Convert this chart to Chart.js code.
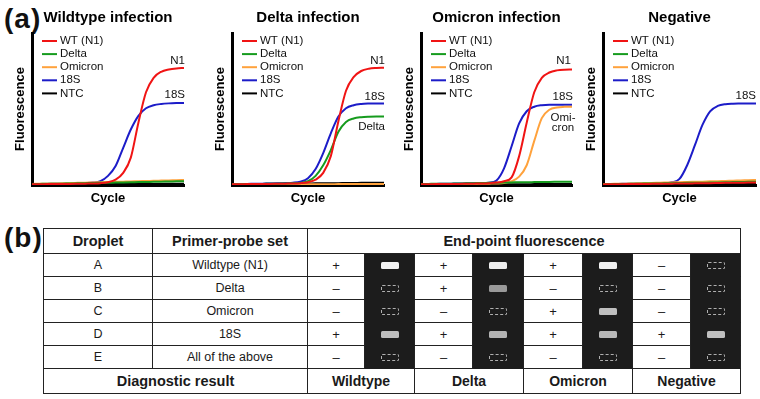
<!DOCTYPE html>
<html>
<head>
<meta charset="utf-8">
<script src="https://cdn.jsdelivr.net/npm/chart.js@4.4.0/dist/chart.umd.min.js"></script>
<style>
body { margin:0; background:#fff; font-family:"Liberation Sans", Arial, sans-serif; }
#fig { position:relative; width:760px; height:399px; overflow:hidden; }
.panel { position:absolute; top:0; }
.tag { position:absolute; font-weight:bold; font-size:28px; line-height:28px; letter-spacing:1px; color:#111; }
#tbl { position:absolute; left:43px; top:228px; width:697px; border-collapse:collapse; table-layout:fixed; color:#1a1a1a; }
#tbl td { border:1px solid #222; text-align:center; vertical-align:middle; padding:0; font-size:12.5px; }
#tbl td.hd { font-weight:bold; font-size:14.5px; }
#tbl td.sign { font-size:13px; }
#tbl td.dark { background:#1c1c1c; border-top-color:#1c1c1c; border-bottom-color:#1c1c1c; }
.drop { display:inline-block; width:18px; height:7px; border-radius:1.5px; vertical-align:middle; box-sizing:border-box; }
.drop.empty { border:1px dashed #b0b0b0; }
</style>
</head>
<body>
<div id="fig">
  <div class="tag" style="left:4px;top:5px">(a)</div>
  <div class="panel" style="left:0px"><canvas id="c1" width="200" height="210"></canvas></div>
  <div class="panel" style="left:200px"><canvas id="c2" width="200" height="210"></canvas></div>
  <div class="panel" style="left:389px"><canvas id="c3" width="200" height="210"></canvas></div>
  <div class="panel" style="left:571px"><canvas id="c4" width="189" height="210"></canvas></div>
  <div class="tag" style="left:4px;top:224px">(b)</div>
  <table id="tbl"></table>
</div>
<script>
// cycle axis samples
const cycles = [0,2,4,6,8,10,12,14,16,18,20,22,24,26,28,30,32,34,36,38,40];

// Wildtype infection
const wtN1    = [0.5,0.5,0.6,0.6,0.7,0.7,0.8,0.9,1.0,1.2,1.8,3.5,8,18,41,61,70.5,74.5,76,76.7,77];
const wtDelta = [0.6,0.7,0.8,0.8,0.9,1.0,1.1,1.2,1.3,1.4,1.5,1.6,1.7,1.8,1.9,2.0,2.1,2.2,2.3,2.4,2.5];
const wtOmi   = [0.7,0.8,0.9,1.0,1.1,1.3,1.4,1.5,1.7,1.8,1.9,2.1,2.2,2.3,2.5,2.6,2.8,2.9,3.0,3.2,3.3];
const wt18S   = [0.5,0.6,0.7,0.8,0.9,1.0,1.1,1.3,1.6,2.5,6,12.5,24.5,36.5,45.5,50.5,52.5,53.3,53.7,53.9,54];
const wtNTC   = [0.4,0.4,0.4,0.4,0.5,0.5,0.5,0.5,0.5,0.6,0.6,0.6,0.6,0.6,0.7,0.7,0.7,0.7,0.8,0.8,0.8];

// Delta infection
const dlN1    = [0.5,0.5,0.6,0.6,0.7,0.7,0.8,0.9,1.0,1.2,1.8,3.5,8,19,42,62,71,75,76.5,77,77.2];
const dlDelta = [0.5,0.5,0.6,0.6,0.7,0.8,0.9,1.0,1.1,1.4,2.5,6,13,23,35,41.5,43.8,44.6,44.9,45,45];
const dlOmi   = [0.3,0.3,0.3,0.3,0.3,0.4,0.4,0.4,0.4,0.4,0.5,0.5,0.5,0.5,0.6,0.6,0.6,0.6,0.7,0.7,0.7];
const dl18S   = [0.5,0.6,0.7,0.8,0.9,1.0,1.1,1.3,1.5,2.2,4.5,10.5,21,34,45,50.5,52.5,53.3,53.6,53.7,53.7];
const dlNTC   = [0.5,0.6,0.6,0.7,0.7,0.8,0.8,0.9,0.9,1.0,1.0,1.1,1.1,1.2,1.2,1.3,1.3,1.4,1.4,1.5,1.5];

// Omicron infection
const omN1    = [0.5,0.5,0.6,0.6,0.7,0.7,0.8,0.9,1.0,1.2,1.6,2.5,5,19,41,61,70.5,74,75.4,75.9,76];
const omDelta = [0.6,0.7,0.8,0.8,0.9,1.0,1.1,1.2,1.3,1.4,1.5,1.6,1.7,1.8,1.8,1.9,2.0,2.0,2.1,2.2,2.2];
const omOmi   = [0.4,0.4,0.5,0.5,0.6,0.6,0.7,0.7,0.8,0.9,1.0,1.3,2.5,5.5,13,29,44,49.5,51,51.4,51.5];
const om18S   = [0.5,0.6,0.7,0.8,0.9,1.0,1.1,1.2,1.3,1.5,3,11,25.5,40.5,48.5,51.5,52.5,52.8,52.8,52.8,52.8];
const omNTC   = [0.3,0.3,0.3,0.3,0.4,0.4,0.4,0.4,0.4,0.5,0.5,0.5,0.5,0.5,0.5,0.6,0.6,0.6,0.6,0.6,0.7];

// Negative
const ngN1    = [0.4,0.5,0.5,0.6,0.6,0.7,0.7,0.8,0.8,0.9,1.0,1.0,1.1,1.2,1.2,1.3,1.4,1.4,1.5,1.6,1.6];
const ngDelta = [0.5,0.6,0.7,0.7,0.8,0.9,1.0,1.0,1.1,1.2,1.3,1.4,1.4,1.5,1.6,1.7,1.8,1.9,2.0,2.1,2.2];
const ngOmi   = [0.6,0.7,0.8,0.9,1.0,1.2,1.3,1.4,1.6,1.7,1.8,2.0,2.1,2.2,2.4,2.5,2.7,2.8,3.0,3.1,3.3];
const ng18S   = [0.5,0.6,0.7,0.8,0.9,1.0,1.1,1.2,1.2,1.8,4,13,26,39.5,48.5,52,53.2,53.5,53.6,53.7,53.7];
const ngNTC   = [0.3,0.3,0.3,0.3,0.3,0.4,0.4,0.4,0.4,0.4,0.5,0.5,0.5,0.5,0.5,0.5,0.6,0.6,0.6,0.6,0.6];

const seriesNames  = ['WT (N1)','Delta','Omicron','18S','NTC'];
const seriesColors = ['#f01414','#169b1e','#ffa23c','#1c1cc8','#000000'];

// table (b)
const droplets   = ['A','B','C','D','E'];
const primerSets = ['Wildtype (N1)','Delta','Omicron','18S','All of the above'];
const resultNames = ['Wildtype','Delta','Omicron','Negative'];
const wtSigns = ['+','–','–','+','–'];
const dlSigns = ['+','+','–','+','–'];
const omSigns = ['+','–','+','+','–'];
const ngSigns = ['–','–','–','+','–'];
const wtGlow = [0.95,0,0,0.74,0];
const dlGlow = [0.93,0.6,0,0.7,0];
const omGlow = [0.94,0,0.75,0.72,0];
const ngGlow = [0,0,0,0.75,0];

const family = '"Liberation Sans", Arial, sans-serif';
Chart.defaults.font.family = family;

const insetLegend = {
  id: 'insetLegend',
  afterDatasetsDraw(chart) {
    const {ctx, chartArea: a} = chart;
    ctx.save();
    ctx.font = '11.5px ' + family;
    ctx.textBaseline = 'middle';
    ctx.textAlign = 'left';
    chart.data.datasets.forEach((ds, i) => {
      const y = a.top + 8 + i * 13.1;
      ctx.strokeStyle = ds.borderColor;
      ctx.lineWidth = 2;
      ctx.beginPath(); ctx.moveTo(a.left + 10, y); ctx.lineTo(a.left + 25, y); ctx.stroke();
      ctx.fillStyle = '#111';
      ctx.fillText(ds.label, a.left + 28, y);
    });
    ctx.restore();
  }
};

function endLabelPlugin(labels) {
  return {
    id: 'endLabels',
    afterDatasetsDraw(chart) {
      const ctx = chart.ctx;
      ctx.save();
      ctx.font = '11.5px ' + family;
      ctx.textBaseline = 'middle';
      ctx.fillStyle = '#111';
      labels.forEach(l => {
        const pts = chart.getDatasetMeta(l.ds).data;
        const p = pts[pts.length - 1];
        ctx.textAlign = l.align;
        l.lines.forEach((t, k) => ctx.fillText(t, p.x + l.dx, p.y + l.dy + k * 10));
      });
      ctx.restore();
    }
  };
}

function buildPanel(id, titleText, values, labels, padRight) {
  return new Chart(document.getElementById(id), {
    type: 'line',
    data: {
      datasets: values.map((v, i) => ({
        label: seriesNames[i],
        data: cycles.map((c, k) => ({x: c, y: v[k]})),
        borderColor: seriesColors[i],
        borderWidth: 2,
        pointRadius: 0,
        cubicInterpolationMode: 'monotone',
        fill: false
      }))
    },
    options: {
      responsive: false,
      animation: false,
      events: [],
      layout: {padding: {left: 4, right: padRight, top: 0, bottom: 0}},
      plugins: {
        legend: {display: false},
        tooltip: {enabled: false},
        title: {
          display: true, text: titleText, fullSize: false, color: '#000',
          font: {size: 15, weight: 'bold'}, padding: {top: 9, bottom: 6}
        }
      },
      scales: {
        x: {
          type: 'linear', min: 0, max: 40,
          grid: {display: false, drawTicks: false},
          ticks: {display: false},
          border: {color: '#000', width: 3},
          title: {display: true, text: 'Cycle', color: '#000', font: {size: 13, weight: 'bold'}, padding: {top: 5.2, bottom: 4.2}}
        },
        y: {
          min: 0, max: 100,
          grid: {display: false, drawTicks: false},
          ticks: {display: false},
          border: {color: '#000', width: 3},
          title: {display: true, text: 'Fluorescence', color: '#000', font: {size: 13, weight: 'bold'}, padding: {top: 8.2, bottom: 4.2}}
        }
      }
    },
    plugins: [insetLegend, endLabelPlugin(labels)]
  });
}

buildPanel('c1', 'Wildtype infection', [wtN1, wtDelta, wtOmi, wt18S, wtNTC], [
  {ds: 0, lines: ['N1'], dx: 1, dy: -7, align: 'right'},
  {ds: 3, lines: ['18S'], dx: 1, dy: -8, align: 'right'}
], 16);
buildPanel('c2', 'Delta infection', [dlN1, dlDelta, dlOmi, dl18S, dlNTC], [
  {ds: 0, lines: ['N1'], dx: 1, dy: -6.5, align: 'right'},
  {ds: 3, lines: ['18S'], dx: 1, dy: -7, align: 'right'},
  {ds: 1, lines: ['Delta'], dx: 1, dy: 10.5, align: 'right'}
], 16);
buildPanel('c3', 'Omicron infection', [omN1, omDelta, omOmi, om18S, omNTC], [
  {ds: 0, lines: ['N1'], dx: -1, dy: -9, align: 'right'},
  {ds: 3, lines: ['18S'], dx: 1, dy: -8, align: 'right'},
  {ds: 2, lines: ['Omi-', 'cron'], dx: -9, dy: 11.6, align: 'center'}
], 17);
buildPanel('c4', 'Negative', [ngN1, ngDelta, ngOmi, ng18S, ngNTC], [
  {ds: 3, lines: ['18S'], dx: 0, dy: -8, align: 'right'}
], 4);

// end-point fluorescence table
const signCols = [wtSigns, dlSigns, omSigns, ngSigns];
const glowCols = [wtGlow, dlGlow, omGlow, ngGlow];
const colWidths = [109, 155, 57, 50, 58, 51, 59, 50, 58, 50];

function droplet(g) {
  if (!g) return '<span class="drop empty"></span>';
  const v = Math.round(255 * g);
  return '<span class="drop" style="background:rgb(' + v + ',' + v + ',' + v + ')"></span>';
}

let html = '<colgroup>' + colWidths.map(w => '<col style="width:' + w + 'px">').join('') + '</colgroup>';
html += '<tr style="height:25px"><td class="hd">Droplet</td><td class="hd">Primer-probe set</td><td class="hd" colspan="8">End-point fluorescence</td></tr>';
droplets.forEach((d, r) => {
  html += '<tr style="height:23px"><td>' + d + '</td><td>' + primerSets[r] + '</td>';
  signCols.forEach((s, c) => {
    html += '<td class="sign">' + s[r] + '</td><td class="dark">' + droplet(glowCols[c][r]) + '</td>';
  });
  html += '</tr>';
});
html += '<tr style="height:25px"><td class="hd" colspan="2">Diagnostic result</td>' +
  resultNames.map(n => '<td class="hd" colspan="2" style="font-size:14px">' + n + '</td>').join('') + '</tr>';
document.getElementById('tbl').innerHTML = html;
</script>
</body>
</html>
